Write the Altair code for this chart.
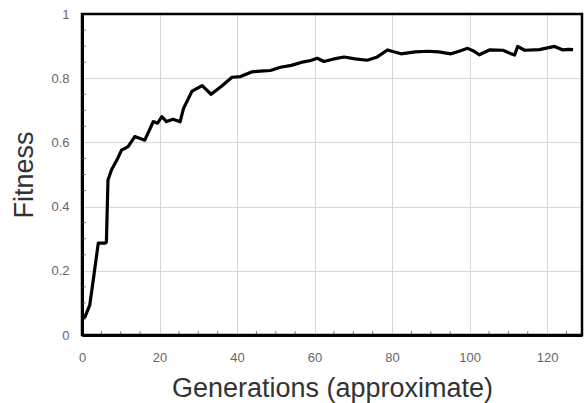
import altair as alt
import pandas as pd

# Curve
generation = [0, 0.8, 2.0, 3.0, 4.2, 5.9, 6.3, 6.7, 7.6, 9.0, 10.2, 11.9, 13.6, 15.0, 16.2,
              18.4, 19.5, 20.6, 21.8, 23.5, 25.3, 26.2, 28.4, 31.0, 33.3, 36.0, 38.7, 40.9,
              43.9, 46.0, 48.6, 51.2, 54.0, 57.2, 59.0, 60.7, 62.4, 65.0, 67.6, 70.5, 73.6,
              76.0, 78.8, 82.3, 86.0, 89.2, 92.0, 95.2, 97.5, 99.5, 101.0, 102.5, 105.1,
              108.6, 110.7, 111.6, 112.4, 114.2, 118.0, 121.9, 124.1, 125.5, 126.7]
fitness = [0.05, 0.057, 0.093, 0.18, 0.286, 0.286, 0.29, 0.483, 0.514, 0.545, 0.576, 0.587,
           0.618, 0.612, 0.607, 0.665, 0.66, 0.68, 0.665, 0.672, 0.664, 0.706, 0.760, 0.777,
           0.750, 0.775, 0.803, 0.805, 0.82, 0.822, 0.824, 0.834, 0.840, 0.851, 0.855, 0.862,
           0.852, 0.860, 0.866, 0.860, 0.856, 0.865, 0.888, 0.876, 0.882, 0.884, 0.882, 0.876,
           0.885, 0.893, 0.885, 0.873, 0.888, 0.887, 0.876, 0.872, 0.899, 0.887, 0.889, 0.899,
           0.888, 0.890, 0.889]

x_ticks = [0, 20, 40, 60, 80, 100, 120]
y_ticks = [0, 0.2, 0.4, 0.6, 0.8, 1]
x_minor = [5, 10, 15, 25, 30, 35, 45, 50, 55, 65, 70, 75, 85, 90, 95, 105, 110, 115, 125]
y_minor = [0.05, 0.1, 0.15, 0.25, 0.3, 0.35, 0.45, 0.5, 0.55, 0.65, 0.7, 0.75, 0.85, 0.9, 0.95]
x_domain = [0, 129]
y_domain = [0, 1]

df = pd.DataFrame({"g": generation, "f": fitness})
xscale = alt.Scale(domain=x_domain, nice=False, zero=False)
yscale = alt.Scale(domain=y_domain, nice=False)

line = alt.Chart(df).mark_line(color="black", strokeWidth=3.2, strokeJoin="round").encode(
    x=alt.X("g:Q", scale=xscale,
            axis=alt.Axis(values=x_ticks, format="d", grid=True, gridColor="#d6d6d6",
                          gridWidth=1, tickSize=0, labelPadding=16, labelFontSize=13,
                          labelColor="#666666", labelFont="Liberation Sans", labelFlush=False,
                          domain=True, domainColor="black", domainWidth=3,
                          title="Generations (approximate)", titleFontSize=27,
                          titleFont="Liberation Sans", titleFontWeight="normal",
                          titleColor="#333333", titlePadding=11)),
    y=alt.Y("f:Q", scale=yscale,
            axis=alt.Axis(values=y_ticks, format="~g", grid=True, gridColor="#d6d6d6",
                          gridWidth=1, tickSize=0, labelPadding=13, labelFontSize=13,
                          labelColor="#666666", labelFont="Liberation Sans", labelFlush=False,
                          domain=True, domainColor="black", domainWidth=3, title="Fitness",
                          titleFontSize=27, titleFont="Liberation Sans",
                          titleFontWeight="normal", titleColor="#333333", titlePadding=12)),
)

xm = pd.DataFrame({"g": x_minor, "y0": [0.0] * len(x_minor), "y1": [0.012] * len(x_minor)})
ym = pd.DataFrame({"f": y_minor, "x0": [0.0] * len(y_minor), "x1": [1.0] * len(y_minor)})
frame_df = pd.DataFrame({"x0": [x_domain[0]], "x1": [x_domain[1]],
                         "y0": [y_domain[0]], "y1": [y_domain[1]]})

xminor = alt.Chart(xm).mark_rule(color="#777777", strokeWidth=1).encode(
    x=alt.X("g:Q", scale=xscale), y=alt.Y("y0:Q", scale=yscale), y2="y1:Q")
yminor = alt.Chart(ym).mark_rule(color="#777777", strokeWidth=1).encode(
    y=alt.Y("f:Q", scale=yscale), x=alt.X("x0:Q", scale=xscale), x2="x1:Q")
frame = alt.Chart(frame_df).mark_rect(fill=None, fillOpacity=0, stroke="black",
                                       strokeWidth=2.5).encode(
    x=alt.X("x0:Q", scale=xscale), x2="x1:Q",
    y=alt.Y("y0:Q", scale=yscale), y2="y1:Q")

chart = alt.layer(xminor, yminor, line, frame).properties(
    width=500, height=321,
    autosize=alt.AutoSizeParams(type="none"),
    padding={"left": 82, "top": 14, "right": 2, "bottom": 68},
).configure_view(stroke=None).configure(background="white")

chart.save("out.html", embed_options={"renderer": "svg", "actions": False})
